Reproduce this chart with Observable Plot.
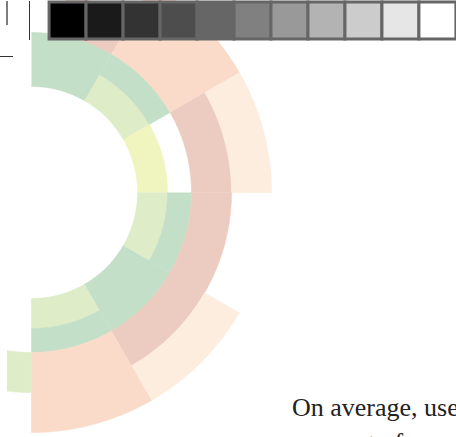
<!DOCTYPE html>
<html>
<head>
<meta charset="utf-8">
<script src="https://cdn.jsdelivr.net/npm/d3@7"></script>
<script src="https://cdn.jsdelivr.net/npm/@observablehq/plot@0.6"></script>
<style>
  html, body { margin: 0; padding: 0; background: #fff; }
  body { width: 456px; height: 437px; overflow: hidden; position: relative; }
  #main { position: absolute; left: 7px; top: 0; }
  #legend { position: absolute; left: 45px; top: 0; }
  #legend svg, #main svg { max-width: none; }
  .tick { position: absolute; }
  #note { position: absolute; left: 292px; top: 390px; font-family: "Liberation Serif", "DejaVu Serif", serif;
          font-size: 26px; line-height: 35px; color: #222; white-space: nowrap; }
</style>
</head>
<body>
<div id="main"></div>
<div id="legend"></div>
<div class="tick" style="left:6px;top:1px;width:2px;height:24px;background:#7d7d7d"></div>
<div class="tick" style="left:29px;top:1px;width:1px;height:39px;background:#333"></div>
<div class="tick" style="left:0px;top:56px;width:13px;height:1px;background:#333"></div>
<div id="note">On average, users<br>per cent of</div>
<script>
// ---- data ----
const categories = ["c1", "c2", "c3", "c4", "c5", "c6"];
const categoryColors = ["#c4dfc8", "#deecc8", "#f0f5c0", "#ecccc0", "#fadac8", "#fcedde"];

// radial segments: angle (degrees, clockwise from top) and radial extent
const segStart    = [0,   30,  30,  60,  90,  90,  120, 150, 150, 10,  30,  60,  60,  90,  120, 150, 180];
const segEnd      = [30,  60,  60,  90,  120, 120, 150, 180, 180, 30,  60,  90,  90,  150, 150, 180, 200];
const segInner    = [106, 106, 136, 106, 106, 136, 106, 106, 136, 160, 160, 160, 200, 160, 200, 160, 160];
const segOuter    = [160, 136, 160, 136, 136, 160, 160, 136, 160, 200, 240, 200, 240, 200, 240, 240, 200];
const segCategory = ["c1","c2","c1","c3","c2","c1","c1","c2","c1","c4","c5","c4","c6","c4","c6","c5","c2"];

const grayLevels = [0, 10, 20, 30, 40, 50, 60, 70, 80, 90, 100];

// ---- build arc polygons from the segment values ----
const rad = Math.PI / 180;
const pts = [];
segStart.forEach((a0, i) => {
  const a1 = segEnd[i], r0 = segInner[i], r1 = segOuter[i];
  const n = Math.max(2, Math.ceil(a1 - a0));
  for (let k = 0; k <= n; k++) {
    const a = (a0 + (a1 - a0) * k / n) * rad;
    pts.push({id: i, cat: segCategory[i], x: r1 * Math.sin(a), y: r1 * Math.cos(a)});
  }
  for (let k = n; k >= 0; k--) {
    const a = (a0 + (a1 - a0) * k / n) * rad;
    pts.push({id: i, cat: segCategory[i], x: r0 * Math.sin(a), y: r0 * Math.cos(a)});
  }
});

const main = Plot.plot({
  width: 449,
  height: 437,
  margin: 0,
  x: {domain: [-24, 425], axis: null},
  y: {domain: [-245, 192], axis: null},
  color: {domain: categories, range: categoryColors},
  marks: [
    Plot.line(pts, {x: "x", y: "y", z: "id", fill: "cat", stroke: "cat", strokeWidth: 0.6, curve: "linear"})
  ]
});
document.getElementById("main").append(main);

const legend = Plot.plot({
  width: 2 + 37.33 * 11 + 4,
  height: 41,
  marginTop: 2,
  marginBottom: 2,
  marginLeft: 2,
  marginRight: 4,
  x: {type: "band", domain: grayLevels, padding: 0, axis: null},
  color: {type: "linear", domain: [0, 100], range: ["#000000", "#ffffff"], interpolate: "rgb"},
  marks: [
    Plot.cell(grayLevels, {x: d => d, fill: d => d, stroke: "#666", strokeWidth: 3})
  ]
});
document.getElementById("legend").append(legend);
</script>
</body>
</html>
